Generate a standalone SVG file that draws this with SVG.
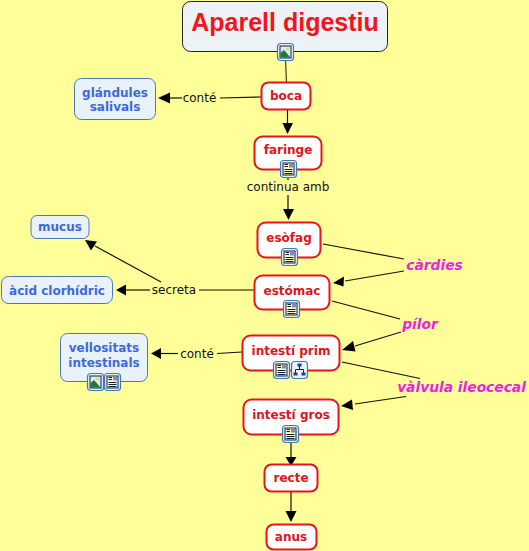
<svg xmlns="http://www.w3.org/2000/svg" width="529" height="551" viewBox="0 0 529 551">
<style>
text{font-family:"DejaVu Sans",Verdana,sans-serif;text-anchor:middle}
.r rect{fill:#fff;stroke:#e8141c;stroke-width:2}
.r text{fill:#e0141c;font-weight:bold;font-size:12px}
.b rect{fill:#e8f2f8;stroke:#4f78b0;stroke-width:1}
.b text{fill:#3f68e0;font-weight:bold;font-size:12px}
.l{fill:#111;font-size:12px}
.m{fill:#f01ee0;font-weight:bold;font-style:italic;font-size:13.800px}
#c line{stroke:#111;stroke-width:1.2}
#c path{fill:#000}
.f{fill:#e8f2f8;stroke:#3f78c0;stroke-width:1.200}
</style>
<defs>
<g id="pic"><rect class="f" x="0.500" y="0.500" width="16" height="17" rx="3"/><rect x="3" y="3" width="11" height="12" fill="#d8ecf8" stroke="#123" stroke-width="1"/><circle cx="10.500" cy="6" r="1.600" fill="#e8d878"/><path d="M3.500 14.500L3.500 10L7 7L13.500 14.500Z" fill="#1d7a3a"/></g>
<g id="doc"><rect class="f" x="0.500" y="0.500" width="16" height="17" rx="3"/><rect x="3" y="3" width="11" height="12" fill="#fdf8c8" stroke="#123" stroke-width="1"/><path d="M4.500 9.500H12.500M4.500 11.500H12.500M4.500 13.500H12.500M4.500 4.500H8M4.500 6.500H8" stroke="#123" stroke-width="1" fill="none"/><rect x="9" y="4" width="4" height="3.500" fill="#7a8fc8"/></g>
<g id="map"><rect class="f" x="0.500" y="0.500" width="16" height="17" rx="3"/><path d="M8.500 5V8.500M4.500 12V8.500H12.500V12" stroke="#123" fill="none"/><rect x="6.500" y="2.500" width="4" height="3" fill="#2a3a90"/><rect x="2.500" y="11.500" width="4" height="3" fill="#2a3a90"/><rect x="10.500" y="11.500" width="4" height="3" fill="#2a3a90"/></g>
</defs>
<rect width="529" height="551" fill="#ffff99"/>
<g id="c">
<line x1="285.500" y1="60" x2="286.500" y2="82" stroke-opacity=".8"/>
<line x1="261" y1="97" x2="220" y2="98"/><line x1="182" y1="98" x2="168" y2="98"/>
<path d="M158 98L170 92.500V103.500Z"/>
<line x1="287.500" y1="110" x2="287.500" y2="124"/><path d="M287.500 134L282.500 123H293Z"/>
<line x1="288" y1="177" x2="288" y2="180"/>
<line x1="288" y1="195" x2="288" y2="210"/><path d="M288.500 220L283 209H294Z"/>
<line x1="323" y1="244" x2="404" y2="259"/>
<line x1="404" y1="271" x2="345" y2="281"/><path d="M333 283L344 276.500L343.500 286.500Z"/>
<line x1="332" y1="301" x2="400" y2="319"/>
<line x1="401" y1="332" x2="355" y2="346"/><path d="M342 350L353 341L355.500 351.500Z"/>
<line x1="342" y1="362" x2="420" y2="378.500"/>
<line x1="406" y1="396.500" x2="355" y2="404"/><path d="M341 406L352 399.500L353 410Z"/>
<line x1="254" y1="290" x2="199" y2="290"/><line x1="150" y1="290" x2="125" y2="290"/>
<path d="M116 290L126 284.500V295.500Z"/>
<line x1="161" y1="282" x2="95" y2="246"/><path d="M85 240L97 241.500L91 250.500Z"/>
<line x1="242" y1="352" x2="217" y2="353.500"/><line x1="178" y1="353.500" x2="160" y2="353.500"/>
<path d="M151 353.500L161 348V359Z"/>
<line x1="291" y1="443" x2="291" y2="458"/><path d="M291 466L285.500 457H296.500Z"/>
<line x1="291" y1="492" x2="291" y2="511"/><path d="M291 522L285.500 511H296.500Z"/>
</g>
<g id="n-title"><rect x="182.500" y="1.500" width="205" height="50" rx="8" fill="#ecf2f6" stroke="#222" stroke-width="1"/><text x="285" y="31" style="font-family:'Liberation Sans',Arial,sans-serif;font-weight:bold;font-size:25px;fill:#f5141c">Aparell digestiu</text><use href="#pic" x="277" y="43"/></g>
<g id="n-boca" class="r"><rect x="261.500" y="82.500" width="49" height="27" rx="7"/><text x="286" y="100">boca</text></g>
<g id="n-faringe" class="r"><rect x="254.500" y="136.500" width="67" height="33" rx="8"/><text x="288" y="154">faringe</text><use href="#doc" x="280" y="160"/></g>
<g id="n-esofag" class="r"><rect x="257.500" y="222.500" width="63" height="35" rx="8"/><text x="289" y="242">esòfag</text><use href="#doc" x="281" y="248"/></g>
<g id="n-estomac" class="r"><rect x="254.500" y="275.500" width="75" height="34" rx="8"/><text x="292" y="295">estómac</text><use href="#doc" x="283" y="300"/></g>
<g id="n-prim" class="r"><rect x="242.500" y="335.500" width="97" height="35" rx="8"/><text x="291" y="355">intestí prim</text><use href="#doc" x="273" y="361"/><use href="#map" x="291" y="361"/></g>
<g id="n-gros" class="r"><rect x="243.500" y="399.500" width="95" height="35" rx="8"/><text x="291" y="419">intestí gros</text><use href="#doc" x="282" y="425"/></g>
<g id="n-recte" class="r"><rect x="264.500" y="464.500" width="53" height="27" rx="7"/><text x="291" y="482">recte</text></g>
<g id="n-anus" class="r"><rect x="266.500" y="524.500" width="50" height="25" rx="7"/><text x="291" y="541">anus</text></g>
<g id="n-glandules" class="b"><rect x="74.500" y="78.500" width="81" height="41" rx="7"/><text x="115" y="97">glándules</text><text x="115" y="111">salivals</text></g>
<g id="n-mucus" class="b"><rect x="31" y="215.500" width="58" height="23" rx="6"/><text x="60" y="231">mucus</text></g>
<g id="n-acid" class="b"><rect x="1.500" y="276.500" width="111" height="27" rx="7"/><text x="57" y="295">àcid clorhídric</text></g>
<g id="n-vellositats" class="b"><rect x="60.500" y="333.500" width="87" height="48" rx="7"/><text x="104" y="352">vellositats</text><text x="104" y="367">intestinals</text><use href="#pic" x="87" y="373"/><use href="#doc" x="104" y="373"/></g>
<g id="labels">
<text class="l" x="199.500" y="102">conté</text>
<text class="l" x="288" y="191">continua amb</text>
<text class="l" x="174" y="294">secreta</text>
<text class="l" x="197" y="358">conté</text>
<text class="m" x="434.500" y="270">càrdies</text>
<text class="m" x="420" y="329">pílor</text>
<text class="m" x="461.500" y="392">vàlvula ileocecal</text>
</g>
</svg>
